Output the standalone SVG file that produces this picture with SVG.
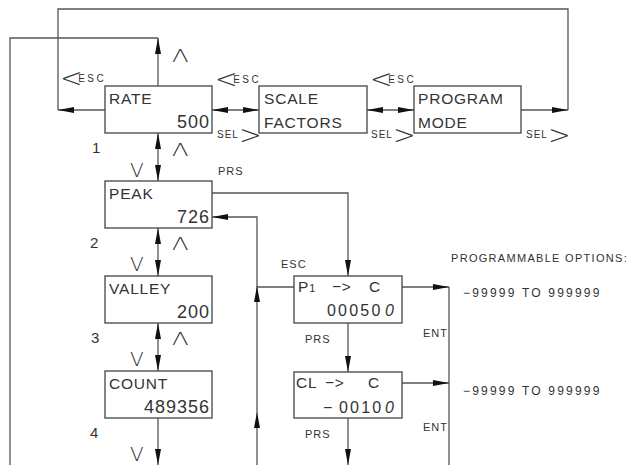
<svg xmlns="http://www.w3.org/2000/svg" width="630" height="465" viewBox="0 0 630 465">
<defs>
<marker id="ah" markerUnits="userSpaceOnUse" markerWidth="16" markerHeight="6" refX="16" refY="3" orient="auto-start-reverse">
<path d="M0,0 L16,3 L0,6 z" fill="#111"/>
</marker>
<style>
.bx{fill:#fff;stroke:#444;stroke-width:1.3}
.ln{fill:none;stroke:#555;stroke-width:1.3}
.a{marker-end:url(#ah)}
.aa{marker-start:url(#ah);marker-end:url(#ah)}
text{font-family:"Liberation Sans",Arial,sans-serif;fill:#333}
.t{font-size:15.5px;letter-spacing:0.8px}
.n{font-size:18px;letter-spacing:1px;text-anchor:end}
.d{font-size:16px;letter-spacing:2.2px}
.s{font-size:11px;letter-spacing:1px}
.e{font-size:10px;letter-spacing:2.5px}
.sel{font-size:10px;letter-spacing:1px}
.br{font-family:"DejaVu Sans",sans-serif;font-weight:200;font-size:27px}
.lt{letter-spacing:-4.5px}
.up{font-family:"DejaVu Sans",sans-serif;font-weight:200;font-size:18px}
.dn{font-family:"DejaVu Sans",sans-serif;font-weight:200;font-size:20px}
.num{font-size:15px}
.opt{font-size:12px;letter-spacing:2.2px}
.hd{font-size:11px;letter-spacing:1.3px}
</style>
</defs>
<rect width="630" height="465" fill="#fff"/>

<g id="connectors">
<path class="ln a" d="M521,110 H568"/>
<path class="ln" d="M568,110 V9 H58 V110"/>
<path class="ln a" d="M105,110 H58"/>
<path class="ln a" d="M158,86 V38"/>
<path class="ln" d="M158,38 H10 V465"/>
<path class="ln aa" d="M212,110 H259"/>
<path class="ln aa" d="M367,110 H414"/>
<path class="ln aa" d="M158,133 V181"/>
<path class="ln aa" d="M158,228 V276"/>
<path class="ln aa" d="M158,323 V371"/>
<path class="ln a" d="M158,418 V465"/>
<path class="ln a" d="M212,193 H348 V276"/>
<path class="ln a" d="M257,465 V412"/>
<path class="ln a" d="M257,412 V286"/>
<path class="ln a" d="M257,287 V217 H212"/>
<path class="ln" d="M294,287 H257"/>
<path class="ln a" d="M402,287 H449"/>
<path class="ln" d="M449,287 V465"/>
<path class="ln a" d="M402,383 H449"/>
<path class="ln a" d="M348,323 V372"/>
<path class="ln a" d="M348,418 V465"/>
</g>

<g id="rate">
<rect class="bx" x="105" y="86" width="107" height="47"/>
<text class="t" x="109" y="104">RATE</text>
<text class="n" x="210" y="128">500</text>
</g>
<g id="scale-factors">
<rect class="bx" x="259" y="86" width="108" height="47"/>
<text class="t" x="264" y="104">SCALE</text>
<text class="t" x="264" y="128">FACTORS</text>
</g>
<g id="program-mode">
<rect class="bx" x="414" y="86" width="107" height="47"/>
<text class="t" x="418" y="104">PROGRAM</text>
<text class="t" x="418" y="128">MODE</text>
</g>
<g id="peak">
<rect class="bx" x="105" y="181" width="107" height="47"/>
<text class="t" x="109" y="199">PEAK</text>
<text class="n" x="210" y="223">726</text>
</g>
<g id="valley">
<rect class="bx" x="105" y="276" width="107" height="47"/>
<text class="t" x="109" y="294">VALLEY</text>
<text class="n" x="210" y="318">200</text>
</g>
<g id="count">
<rect class="bx" x="105" y="371" width="107" height="47"/>
<text class="t" x="109" y="389">COUNT</text>
<text class="n" x="210" y="413">489356</text>
</g>
<g id="p1-c">
<rect class="bx" x="294" y="276" width="108" height="47"/>
<text class="t" x="298" y="292">P<tspan font-size="11">1</tspan><tspan x="332">−&gt;</tspan><tspan x="369">C</tspan></text>
<text class="d" x="327" y="316">00050<tspan x="385" font-style="italic">0</tspan></text>
</g>
<g id="cl-c">
<rect class="bx" x="294" y="372" width="108" height="46"/>
<text class="t" x="296" y="388">CL<tspan x="325">−&gt;</tspan><tspan x="368">C</tspan></text>
<text class="d" x="323" y="413">−<tspan x="339">0010</tspan><tspan x="385" font-style="italic">0</tspan></text>
</g>

<g id="labels">
<text class="e" x="60" y="87"><tspan class="br lt">&lt;</tspan><tspan dy="-5">ESC</tspan></text>
<text class="e" x="215" y="88"><tspan class="br lt">&lt;</tspan><tspan dy="-5">ESC</tspan></text>
<text class="e" x="370" y="88"><tspan class="br lt">&lt;</tspan><tspan dy="-5">ESC</tspan></text>
<text class="sel" x="217" y="138">SEL<tspan class="br" dy="6">&gt;</tspan></text>
<text class="sel" x="371" y="138">SEL<tspan class="br" dy="6">&gt;</tspan></text>
<text class="sel" x="526" y="138">SEL<tspan class="br" dy="6">&gt;</tspan></text>

<text class="up" transform="translate(172,62) scale(1.35,1)">Λ</text>
<text class="up" transform="translate(172,156) scale(1.35,1)">Λ</text>
<text class="up" transform="translate(172,250) scale(1.35,1)">Λ</text>
<text class="up" transform="translate(172,345) scale(1.35,1)">Λ</text>
<text class="dn" x="130" y="177">V</text>
<text class="dn" x="130" y="271">V</text>
<text class="dn" x="130" y="366">V</text>
<text class="dn" x="130" y="461">V</text>

<text class="num" x="92" y="153">1</text>
<text class="num" x="90" y="248">2</text>
<text class="num" x="91" y="343">3</text>
<text class="num" x="90" y="438">4</text>

<text class="s" x="218" y="175">PRS</text>
<text class="s" x="281" y="268">ESC</text>
<text class="s" x="305" y="343">PRS</text>
<text class="s" x="305" y="438">PRS</text>
<text class="s" x="423" y="337">ENT</text>
<text class="s" x="423" y="431">ENT</text>

<text class="hd" x="451" y="262">PROGRAMMABLE OPTIONS:</text>
<text class="opt" x="463" y="297">−99999 TO 999999</text>
<text class="opt" x="463" y="395">−99999 TO 999999</text>
</g>
</svg>
